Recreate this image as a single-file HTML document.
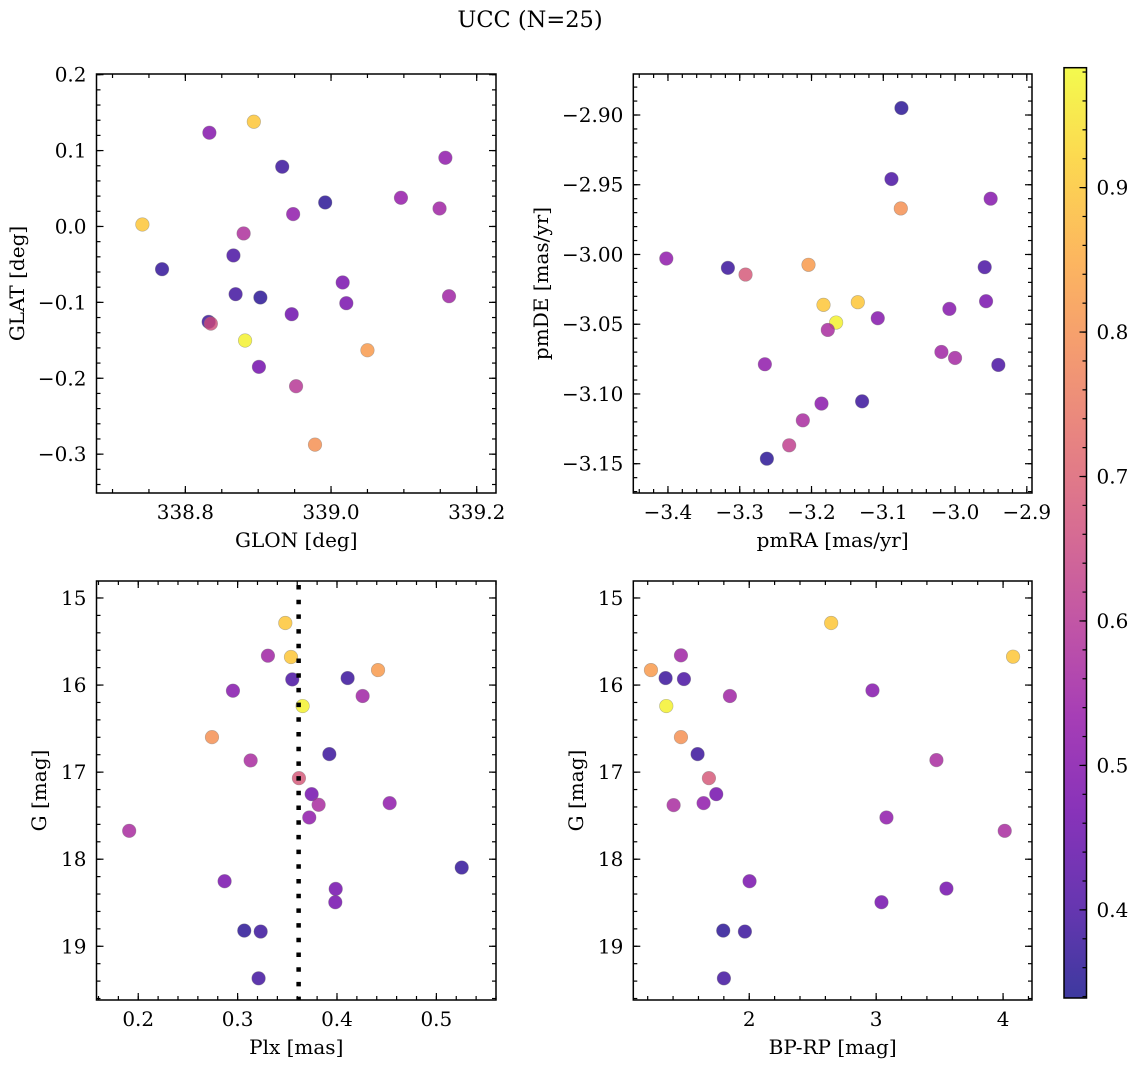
<!DOCTYPE html>
<html><head><meta charset="utf-8"><style>
html,body{margin:0;padding:0;background:#fff;}
svg{display:block;font-family:"DejaVu Serif","Liberation Serif",serif;}
</style></head><body>
<svg id="fig" width="1136" height="1067" viewBox="0 0 1136 1067" xmlns="http://www.w3.org/2000/svg">
<defs>
<linearGradient id="cbgrad" x1="0" y1="1" x2="0" y2="0">
<stop offset="0" stop-color="#0d0887"/><stop offset="0.1" stop-color="#41049d"/><stop offset="0.2" stop-color="#6a00a8"/><stop offset="0.3" stop-color="#8f0da4"/><stop offset="0.4" stop-color="#b12a90"/><stop offset="0.5" stop-color="#cc4778"/><stop offset="0.6" stop-color="#e16462"/><stop offset="0.7" stop-color="#f2844b"/><stop offset="0.8" stop-color="#fca636"/><stop offset="0.9" stop-color="#fcce25"/><stop offset="1" stop-color="#f0f921"/>
</linearGradient>
</defs>
<text x="530" y="27" font-size="22.5" text-anchor="middle">UCC (N=25)</text>
</svg>
<script>
// ---- data ----
const glon = [338.833,338.894,338.933,339.157,338.992,339.096,339.149,338.948,338.741,338.880,338.866,338.768,339.016,338.869,338.903,339.162,339.021,338.946,338.832,338.835,338.882,339.050,338.901,338.952,338.978];
const glat = [0.1235,0.138,0.0787,0.0905,0.0316,0.0378,0.0237,0.0163,0.0026,-0.0092,-0.0382,-0.0563,-0.0738,-0.0892,-0.0936,-0.0919,-0.1011,-0.1156,-0.1257,-0.128,-0.1503,-0.1631,-0.185,-0.2105,-0.2875];
const probA = [0.5,0.9,0.38,0.52,0.36,0.53,0.55,0.52,0.9,0.58,0.4,0.37,0.48,0.39,0.36,0.55,0.48,0.46,0.38,0.66,0.97,0.82,0.47,0.6,0.8];

const pmra = [-3.0747,-3.0886,-2.9504,-3.0756,-3.4023,-3.3165,-3.2919,-3.2042,-2.9587,-3.1833,-3.1355,-3.1657,-3.1773,-3.1077,-3.0079,-2.9568,-3.019,-3.0,-2.9397,-3.265,-3.1861,-3.1295,-3.2121,-3.2311,-3.2622];
const pmde = [-2.895,-2.9459,-2.960,-2.967,-3.0029,-3.0096,-3.0144,-3.0074,-3.0091,-3.0361,-3.0342,-3.0488,-3.0541,-3.0457,-3.039,-3.0335,-3.0699,-3.0742,-3.0792,-3.0787,-3.1069,-3.1053,-3.1189,-3.1368,-3.1464];
const probB = [0.36,0.4,0.5,0.8,0.52,0.38,0.68,0.82,0.4,0.9,0.9,0.97,0.57,0.5,0.5,0.48,0.55,0.56,0.4,0.52,0.51,0.38,0.57,0.62,0.36];

const plx = [0.348,0.3305,0.3537,0.4413,0.355,0.4107,0.2953,0.4258,0.3654,0.2742,0.3923,0.3131,0.3617,0.3745,0.3815,0.453,0.3721,0.1909,0.5255,0.2869,0.3987,0.3983,0.3067,0.3232,0.3211];
const gmagC = [15.287,15.663,15.678,15.828,15.935,15.92,16.065,16.126,16.241,16.598,16.793,16.866,17.069,17.253,17.375,17.356,17.521,17.674,18.096,18.253,18.341,18.494,18.82,18.831,19.368];
const probC = [0.9,0.55,0.9,0.82,0.4,0.38,0.5,0.55,0.97,0.8,0.38,0.57,0.68,0.47,0.57,0.52,0.52,0.57,0.37,0.48,0.47,0.47,0.36,0.38,0.39];
const plxLine = [0.3614];

const bprp = [2.6457,1.462,4.0787,1.2257,1.3412,1.4856,2.9711,1.8478,1.3465,1.462,1.5932,3.475,1.6824,1.7402,1.4042,1.6404,3.0814,4.0131,2.0026,3.5538,3.042,1.7953,1.9659,1.8005];
const gmagD = [15.287,15.659,15.674,15.828,15.92,15.931,16.061,16.126,16.241,16.598,16.793,16.862,17.069,17.253,17.379,17.356,17.521,17.674,18.253,18.337,18.494,18.82,18.831,19.368];
const probD = [0.9,0.55,0.9,0.82,0.38,0.4,0.5,0.55,0.97,0.8,0.38,0.57,0.68,0.47,0.57,0.52,0.52,0.57,0.48,0.47,0.47,0.36,0.38,0.39];

const ticksA_x = [338.8,339.0,339.2]; const ticksA_y = [0.2,0.1,0.0,-0.1,-0.2,-0.3];
const ticksB_x = [-3.4,-3.3,-3.2,-3.1,-3.0,-2.9]; const ticksB_y = [-2.90,-2.95,-3.00,-3.05,-3.10,-3.15];
const ticksC_x = [0.2,0.3,0.4,0.5]; const ticksG = [15,16,17,18,19];
const ticksD_x = [2,3,4];
const cbTicks = [0.4,0.5,0.6,0.7,0.8,0.9];

// ---- drawing ----
const NS = "http://www.w3.org/2000/svg";
const svg = document.getElementById('fig');
const FS = 20;
function mk(tag, attrs, parent){ const e=document.createElementNS(NS,tag); for(const k in attrs) e.setAttribute(k,attrs[k]); (parent||svg).appendChild(e); return e; }
const CMIN=0.339, CMAX=0.983;
const stops=[[13,8,135],[65,4,157],[106,0,168],[143,13,164],[177,42,144],[204,71,120],[225,100,98],[242,132,75],[252,166,54],[252,206,37],[240,249,33]];
function plasma(v){ let t=(v-CMIN)/(CMAX-CMIN); t=Math.max(0,Math.min(1,t)); const f=t*10; const i=Math.min(9,Math.floor(f)); const r=f-i; const a=stops[i], b=stops[i+1]; return 'rgb('+a.map((c,k)=>Math.round(c+(b[k]-c)*r)).join(',')+')'; }
function fmt(v,d){ const s=Math.abs(v).toFixed(d); return (v<-1e-9?'\u2212':'')+s; }

function panel(cfg){
  const {name,x0,x1,y0,y1,xmin,xmax,ymin,ymax,inv} = cfg;
  const g = mk('g',{});
  
  
  const sx = v => x0 + (v-xmin)/(xmax-xmin)*(x1-x0);
  const sy = inv ? (v => y0 + (v-ymin)/(ymax-ymin)*(y1-y0)) : (v => y1 - (v-ymin)/(ymax-ymin)*(y1-y0));
  const tg = mk('g',{stroke:'#000','stroke-width':1.2},g);
  function ticksFor(step, len, axis){
    const lo = axis==='x'?xmin:ymin, hi = axis==='x'?xmax:ymax;
    for(let k=Math.ceil(lo/step-1e-6); k*step<=hi+1e-9; k++){
      const v=k*step;
      if(axis==='x'){ const p=sx(v); mk('line',{x1:p,x2:p,y1:y1,y2:y1-len},tg); mk('line',{x1:p,x2:p,y1:y0,y2:y0+len},tg); }
      else { const p=sy(v); mk('line',{x1:x0,x2:x0+len,y1:p,y2:p},tg); mk('line',{x1:x1,x2:x1-len,y1:p,y2:p},tg); }
    }
  }
  ticksFor(cfg.xminor,4,'x'); ticksFor(cfg.yminor,4,'y');
  cfg.xt.forEach(v=>{ const p=sx(v); mk('line',{x1:p,x2:p,y1:y1,y2:y1-7},tg); mk('line',{x1:p,x2:p,y1:y0,y2:y0+7},tg);
    const t=mk('text',{x:p,y:y1+26,'font-size':FS,'text-anchor':'middle'},g); t.textContent=fmt(v,cfg.xd);
      });
  cfg.yt.forEach(v=>{ const p=sy(v); mk('line',{x1:x0,x2:x0+7,y1:p,y2:p},tg); mk('line',{x1:x1,x2:x1-7,y1:p,y2:p},tg);
    const t=mk('text',{x:x0-10,y:p+7,'font-size':FS,'text-anchor':'end'},g); t.textContent=fmt(v,cfg.yd);
      });
  const xl=mk('text',{x:(x0+x1)/2,y:y1+54,'font-size':FS,'text-anchor':'middle'},g); xl.textContent=cfg.xlabel;
   
  const yl=mk('text',{x:cfg.ylx,y:(y0+y1)/2,'font-size':FS,'text-anchor':'middle',transform:'rotate(-90 '+cfg.ylx+' '+((y0+y1)/2)+')'},g); yl.textContent=cfg.ylabel;
   
  const pg = mk('g',{},g);
  cfg.xs.forEach((xv,i)=>{
    const c=mk('circle',{cx:sx(xv),cy:sy(cfg.ys[i]),r:6.8,fill:plasma(cfg.cs[i]),'fill-opacity':0.8,stroke:'#777','stroke-opacity':0.5,'stroke-width':0.6},pg);
    
    
  });
  if(cfg.vline){ cfg.vline.forEach(v=>{ const l=mk('line',{x1:sx(v),x2:sx(v),y1:y0+4,y2:y1,stroke:'#000','stroke-width':4.5,'stroke-dasharray':'4.5 10.2'},g);
      }); }
  const fr=mk('rect',{x:x0,y:y0,width:x1-x0,height:y1-y0,fill:'none',stroke:'#000','stroke-width':1.5},g);
   
}

panel({name:'glon-glat-panel',x0:96.5,x1:496,y0:74,y1:493,xmin:338.678,xmax:339.2265,ymin:-0.3512,ymax:0.2009,
  xt:ticksA_x,yt:ticksA_y,xd:1,yd:1,xminor:0.05,yminor:0.02,xlabel:'GLON [deg]',ylabel:'GLAT [deg]',ylx:24,xs:glon,ys:glat,cs:probA});
panel({name:'pm-panel',x0:633.3,x1:1032,y0:74,y1:493,xmin:-3.4483,xmax:-2.8928,ymin:-3.171,ymax:-2.8706,
  xt:ticksB_x,yt:ticksB_y,xd:1,yd:2,xminor:0.02,yminor:0.01,xlabel:'pmRA [mas/yr]',ylabel:'pmDE [mas/yr]',ylx:548,xs:pmra,ys:pmde,cs:probB});
panel({name:'plx-g-panel',x0:96.5,x1:496,y0:581,y1:1000,xmin:0.158,xmax:0.560,ymin:14.805,ymax:19.617,inv:true,
  xt:ticksC_x,yt:ticksG,xd:1,yd:0,xminor:0.02,yminor:0.2,xlabel:'Plx [mas]',ylabel:'G [mag]',ylx:46,xs:plx,ys:gmagC,cs:probC,vline:plxLine});
panel({name:'cmd-panel',x0:633.3,x1:1032,y0:581,y1:1000,xmin:1.0866,xmax:4.228,ymin:14.805,ymax:19.617,inv:true,
  xt:ticksD_x,yt:ticksG,xd:0,yd:0,xminor:0.2,yminor:0.2,xlabel:'BP-RP [mag]',ylabel:'G [mag]',ylx:583,xs:bprp,ys:gmagD,cs:probD});

// colorbar
const cb = mk('g',{});


const CX0=1064, CX1=1086.5, CY0=67.7, CY1=998;
mk('rect',{x:CX0,y:CY0,width:CX1-CX0,height:CY1-CY0,fill:'url(#cbgrad)','fill-opacity':0.8},cb);
const cy = v => CY1 - (v-CMIN)/(CMAX-CMIN)*(CY1-CY0);
for(let k=Math.ceil(CMIN/0.02); k*0.02<=CMAX; k++){ const p=cy(k*0.02); mk('line',{x1:CX1,x2:CX1-4,y1:p,y2:p,stroke:'#000','stroke-width':1.2},cb); }
cbTicks.forEach(v=>{ const p=cy(v); mk('line',{x1:CX1,x2:CX1-7,y1:p,y2:p,stroke:'#000','stroke-width':1.2},cb);
  const t=mk('text',{x:CX1+10,y:p+7,'font-size':FS},cb); t.textContent=v.toFixed(1);
    });
mk('rect',{x:CX0,y:CY0,width:CX1-CX0,height:CY1-CY0,fill:'none',stroke:'#000','stroke-width':1.5},cb);
</script>
</body></html>
